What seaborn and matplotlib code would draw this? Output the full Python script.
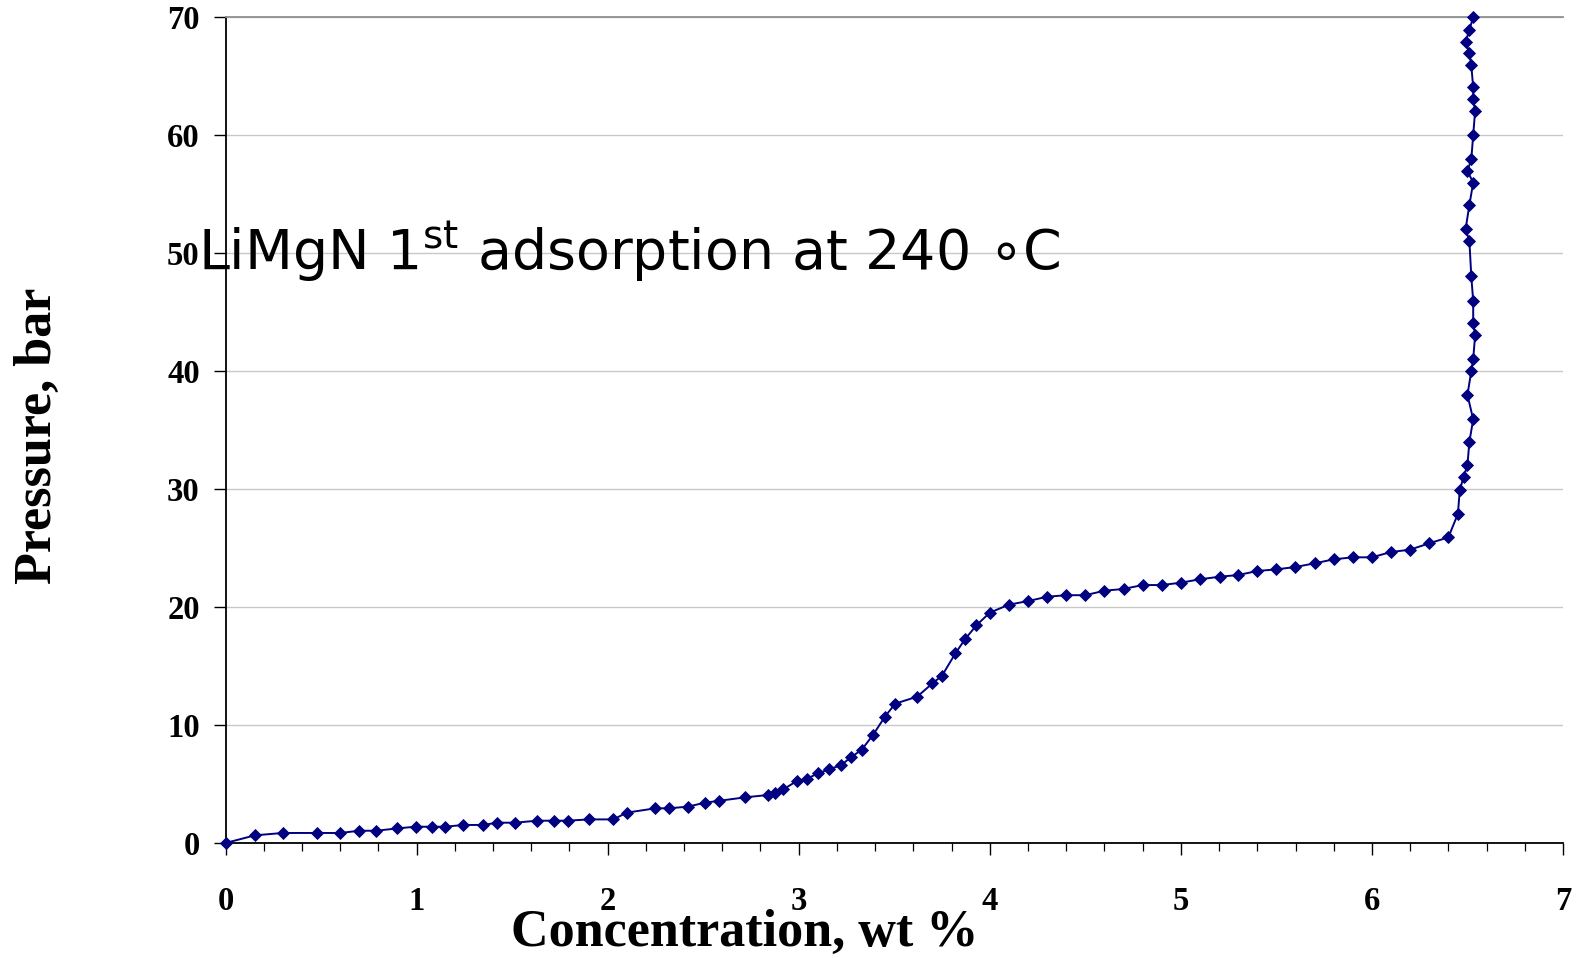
import matplotlib
matplotlib.use("Agg")
import matplotlib.pyplot as plt
from matplotlib.ticker import MultipleLocator
import seaborn as sns
import pandas as pd

# ---- data ----
concentration = [
    0.00, 0.154, 0.30, 0.48, 0.60, 0.70, 0.79, 0.90, 0.995, 1.08, 1.15, 1.245,
    1.35, 1.42, 1.515, 1.63, 1.72, 1.79, 1.90, 2.03, 2.10, 2.25, 2.32, 2.42,
    2.51, 2.585, 2.72, 2.84, 2.876, 2.92, 2.99, 3.045, 3.10, 3.16, 3.22, 3.275,
    3.33, 3.39, 3.45, 3.505, 3.62, 3.70, 3.75, 3.82, 3.87, 3.93, 4.00, 4.10,
    4.20, 4.30, 4.40, 4.50, 4.60, 4.70, 4.80, 4.90, 5.00, 5.10, 5.205, 5.30,
    5.40, 5.50, 5.60, 5.70, 5.80, 5.90, 6.00, 6.10, 6.20, 6.30, 6.40, 6.45,
    6.46, 6.48, 6.50, 6.51, 6.53, 6.50, 6.52, 6.53, 6.54, 6.53, 6.53, 6.52,
    6.51, 6.49, 6.51, 6.53, 6.50, 6.52, 6.53, 6.54, 6.53, 6.53, 6.52, 6.51,
    6.49, 6.51, 6.53,
]
pressure = [
    0.00, 0.65, 0.85, 0.85, 0.85, 1.04, 1.04, 1.24, 1.38, 1.38, 1.38, 1.53,
    1.53, 1.72, 1.72, 1.89, 1.89, 1.89, 2.00, 2.00, 2.57, 2.94, 2.94, 3.08,
    3.42, 3.58, 3.87, 4.07, 4.26, 4.55, 5.25, 5.45, 5.90, 6.25, 6.58, 7.28,
    7.91, 9.18, 10.68, 11.81, 12.40, 13.53, 14.18, 16.07, 17.26, 18.45, 19.52, 20.20,
    20.50, 20.87, 21.00, 21.00, 21.38, 21.53, 21.86, 21.86, 22.06, 22.35, 22.57, 22.71,
    23.05, 23.19, 23.39, 23.70, 24.04, 24.21, 24.21, 24.66, 24.86, 25.40, 25.90, 27.90,
    29.95, 31.00, 32.05, 34.00, 35.90, 37.97, 40.00, 41.00, 43.03, 44.10, 45.93, 48.03,
    51.04, 52.00, 54.07, 55.96, 56.95, 57.94, 60.00, 62.03, 63.05, 64.04, 65.90, 66.97,
    67.90, 68.90, 70.00,
]
x_ticks = [0, 1, 2, 3, 4, 5, 6, 7]
y_ticks = [0, 10, 20, 30, 40, 50, 60, 70]
x_label = "Concentration, wt %"
y_label = "Pressure, bar"
annotation = "LiMgN 1$^{\\mathregular{st}}$ adsorption at 240 \u2218C"

df = pd.DataFrame({"conc": concentration, "pres": pressure})

sns.set_style("white")
plt.rcParams["font.family"] = ["Liberation Serif", "DejaVu Sans"]
plt.rcParams["font.weight"] = "bold"
plt.rcParams["mathtext.fontset"] = "dejavusans"
plt.rcParams["text.color"] = "black"
plt.rcParams["axes.labelcolor"] = "black"
plt.rcParams["xtick.color"] = "black"
plt.rcParams["ytick.color"] = "black"

W, H = 1579, 958
fig, ax = plt.subplots(figsize=(W / 100, H / 100), dpi=100)
fig.subplots_adjust(left=225.5 / W, right=1563 / W, bottom=1 - 843 / H, top=1 - 17 / H)

sns.lineplot(data=df, x="conc", y="pres", sort=False, estimator=None, ax=ax,
             color="#000080", linewidth=1.4, marker="D", markersize=6.2,
             markeredgewidth=0.6, markeredgecolor="#000080", clip_on=False, zorder=5)

ax.set_xlim(0, 7)
ax.set_ylim(0, 70)
ax.set_xticks(x_ticks)
ax.set_xticklabels([str(v) for v in x_ticks])
ax.xaxis.set_minor_locator(MultipleLocator(0.2))
ax.set_yticks(y_ticks)
ax.set_yticklabels([str(v) for v in y_ticks])

ax.tick_params(axis="x", which="major", direction="out", length=8.6, width=1.0,
               pad=22, labelsize=23.5, color="black", labelcolor="black", bottom=True)
ax.tick_params(axis="x", which="minor", direction="out", length=5.6, width=0.9,
               color="black", bottom=True)
ax.tick_params(axis="y", which="major", direction="out", length=8.6, width=1.0,
               pad=10, labelsize=23.5, color="black", labelcolor="black", left=True)
for lab in ax.get_xticklabels() + ax.get_yticklabels():
    lab.set_fontweight("bold")
    lab.set_fontfamily("Liberation Serif")

ax.yaxis.grid(True, color="#c8c8c8", linewidth=1.0)
ax.xaxis.grid(False)

for side in ["left", "bottom"]:
    ax.spines[side].set_color("black")
    ax.spines[side].set_linewidth(1.3)
ax.spines["top"].set_color("#909090")
ax.spines["top"].set_linewidth(1.3)
ax.spines["right"].set_visible(False)

ax.set_xlabel(x_label, fontsize=37.5, fontweight="bold", family="Liberation Serif",
              color="black")
ax.set_ylabel(y_label, fontsize=37.5, fontweight="bold", family="Liberation Serif",
              color="black")
ax.xaxis.set_label_coords(0.388, -0.080)
ax.yaxis.set_label_coords(-0.122, 0.493)

ax.text(-0.144, 48.6, annotation, fontsize=40, fontweight="normal",
        family="DejaVu Sans", ha="left", va="baseline", color="black", zorder=6)

fig.savefig("out.png", dpi=100, facecolor="white")
